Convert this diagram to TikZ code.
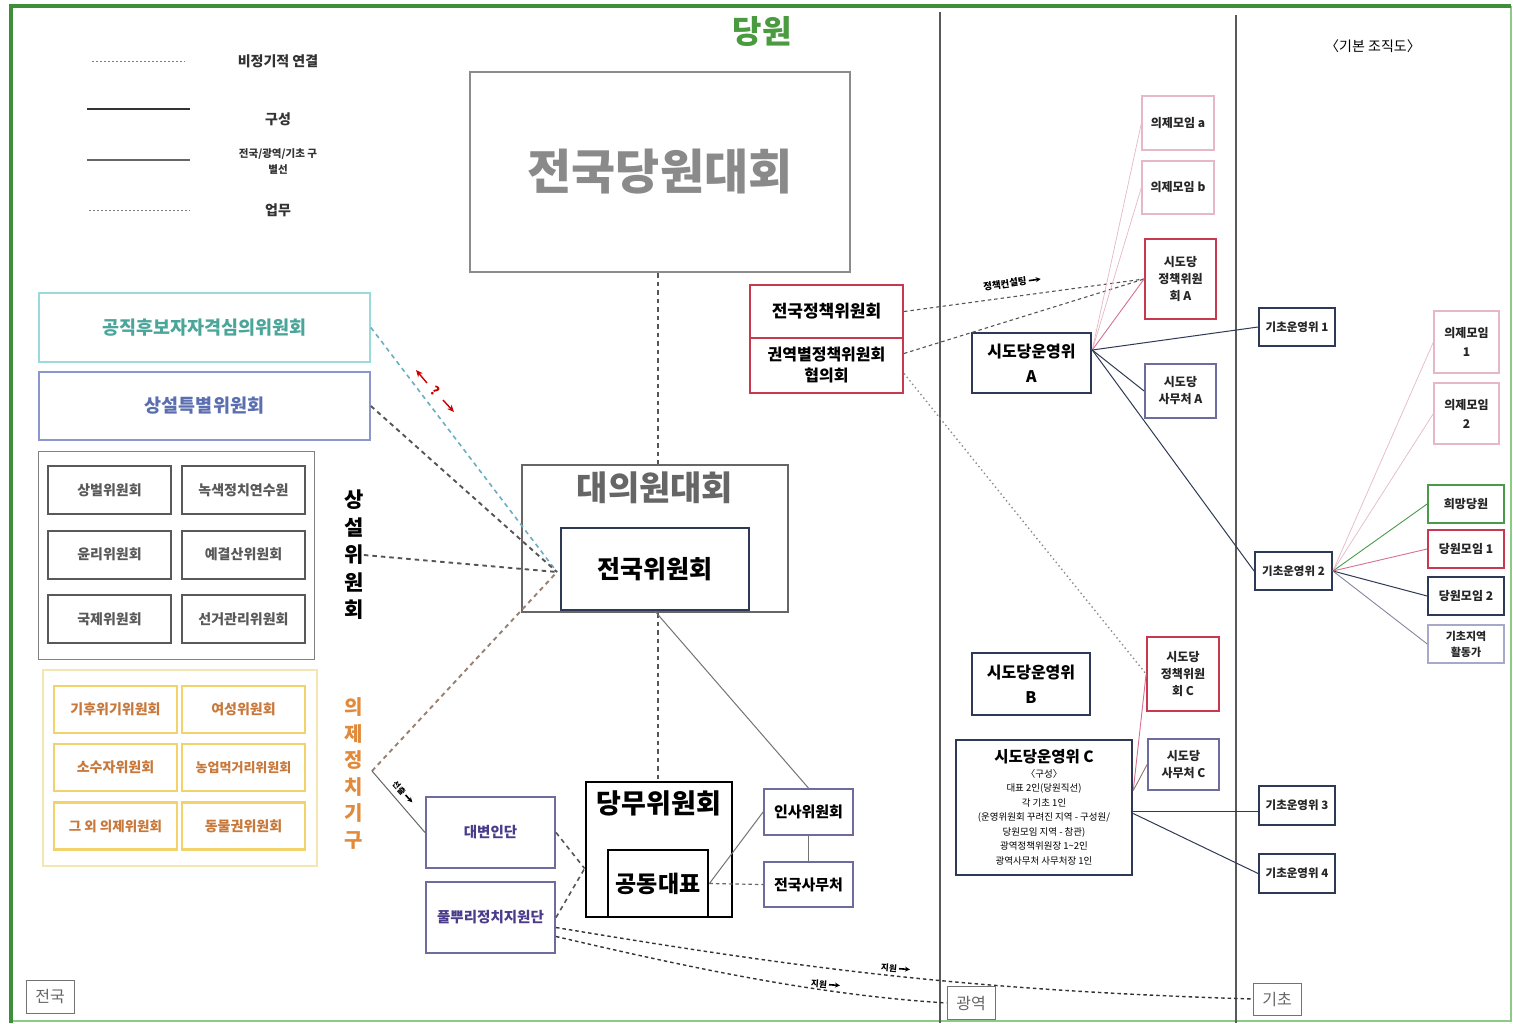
\documentclass[tikz,border=0pt]{standalone}
\usepackage{fontspec}
\setmainfont{Noto Sans CJK KR}
\usetikzlibrary{arrows.meta}
\definecolor{frameg}{HTML}{3F8F3A}
\definecolor{framel}{HTML}{8CCB84}
\definecolor{titleg}{HTML}{4A9A40}
\definecolor{gtxt}{HTML}{8A8A8A}
\definecolor{tealb}{HTML}{9ADADA}
\definecolor{tealt}{HTML}{4AA59A}
\definecolor{tealdash}{HTML}{6AAFC0}
\definecolor{blueb}{HTML}{8A96CC}
\definecolor{bluet}{HTML}{5B6FB0}
\definecolor{boxg}{HTML}{5E5E5E}
\definecolor{yelb}{HTML}{F2D36B}
\definecolor{yelo}{HTML}{F3E6B0}
\definecolor{orat}{HTML}{C8783A}
\definecolor{orav}{HTML}{E08A3A}
\definecolor{oradash}{HTML}{9A8070}
\definecolor{navy}{HTML}{2E3A55}
\definecolor{purb}{HTML}{6E6C9E}
\definecolor{purt}{HTML}{4A3C8A}
\definecolor{redb}{HTML}{C8384E}
\definecolor{pinkl}{HTML}{E6B8C6}
\definecolor{pinkm}{HTML}{D87090}
\definecolor{dgray}{HTML}{555555}
\definecolor{greenb}{HTML}{4A9A4A}
\definecolor{lpur}{HTML}{A8A8C8}
\newcommand\fsz[2]{\fontsize{#1}{#2}\selectfont}
\begin{document}
\begin{tikzpicture}[x=1pt,y=-1pt,
  bx/.style={draw, rectangle, inner sep=0pt, align=center},
  tx/.style={inner sep=0pt, align=center},
  sb/.style={bx, line width=1.8pt, font={\fsz{12}{17}\bfseries}, text=black!85},
  cdash/.style={line width=1.9pt, dash pattern=on 4.5pt off 4pt, draw=dgray},
  ldash/.style={line width=1.2pt, dash pattern=on 3.5pt off 3pt, draw=dgray},
  fdot/.style={line width=1.4pt, dash pattern=on 1.4pt off 3pt, draw=black!45},
  legdot/.style={line width=0.8pt, dash pattern=on 1.5pt off 2.5pt, draw=black!50},
  conn/.style={line width=1pt, draw=navy},
  pconn/.style={line width=0.7pt, draw=pinkl},
  divl/.style={line width=1.3pt, draw=black!65},
  tip/.style={-{Stealth[length=5pt,width=5pt]}, line width=1.6pt, black},
]
\useasboundingbox (0,0) rectangle (1513,1023);
\fill[white] (0,0) rectangle (1513,1023);
% frame
\draw[framel, line width=2pt] (11,1021) -- (1511,1021) -- (1511,6);
\draw[frameg, line width=3.5pt] (11,1023) -- (11,6) -- (1511,6);
% dividers
\coordinate (d1t) at (940,12); \coordinate (d1b) at (940,1023);
\coordinate (d2t) at (1236,15); \coordinate (d2b) at (1236,1023);
\draw[divl] (d1t) -- (d1b);
\draw[divl] (d2t) -- (d2b);
% legend
\coordinate (la1) at (92,61); \coordinate (la2) at (185,61);
\coordinate (lb1) at (87,109); \coordinate (lb2) at (190,109);
\coordinate (lc1) at (87,160); \coordinate (lc2) at (190,160);
\coordinate (ld1) at (89,210); \coordinate (ld2) at (190,210);
\draw[legdot] (la1) -- (la2);
\draw[line width=1.1pt, black!80] (lb1) -- (lb2);
\draw[line width=1.8pt, black!60] (lc1) -- (lc2);
\draw[legdot] (ld1) -- (ld2);
\node[tx, font={\fsz{14}{16}\bfseries}, text=black!80] (lat) at (278,61) {비정기적 연결};
\node[tx, font={\fsz{14}{16}\bfseries}, text=black!80] (lbt) at (278,119) {구성};
\node[tx, font={\fsz{10.5}{16}\bfseries}, text=black!80] (lct) at (278,162) {전국/광역/기초 구\\별선};
\node[tx, font={\fsz{14}{16}\bfseries}, text=black!80] (ldt) at (278,210) {업무};
% titles
\node[tx, font={\fsz{32}{36}\bfseries}, text=titleg] (title) at (762,32) {당원};
\node[tx, font={\fsz{14}{16}}] (basic) at (1373,46) {〈기본 조직도〉};
% central boxes
\coordinate (cx) at (658,0);
\node[bx, draw=black!45, line width=2pt, minimum width=380pt, minimum height=200pt, font={\fsz{48}{50}\bfseries}, text=gtxt] (nat) at (660,172) {전국당원대회};
\node[bx, draw=black!60, line width=2pt, minimum width=266pt, minimum height=147pt] (dae) at (655,538.5) {};
\node[tx, font={\fsz{34}{36}\bfseries}, text=black!60] (daet) at (655,488) {대의원대회};
\node[bx, draw=navy, line width=2.5pt, fill=white, minimum width=188pt, minimum height=82pt, font={\fsz{25}{28}\bfseries}] (jw) at (655,569) {전국위원회};
\node[bx, draw=black, line width=2.8pt, minimum width=146pt, minimum height=135pt] (dang) at (659,849.5) {};
\node[tx, font={\fsz{27}{30}\bfseries}] (dangt) at (659,803) {당무위원회};
\node[bx, draw=black, line width=2.8pt, minimum width=100pt, minimum height=67pt, font={\fsz{23}{26}\bfseries}] (gd) at (658,883.5) {공동대표};
\node[bx, draw=purb, line width=1.8pt, minimum width=89pt, minimum height=46pt, font={\fsz{15}{18}\bfseries}] (insa) at (808.5,812) {인사위원회};
\node[bx, draw=purb, line width=1.8pt, minimum width=89pt, minimum height=45pt, font={\fsz{15}{18}\bfseries}] (jsm) at (808.5,884.5) {전국사무처};
\node[bx, draw=purb, line width=2pt, minimum width=129pt, minimum height=71pt, font={\fsz{14.5}{18}\bfseries}, text=purt] (dbi) at (490.5,832.5) {대변인단};
\node[bx, draw=purb, line width=2pt, minimum width=129pt, minimum height=71pt, font={\fsz{14.5}{18}\bfseries}, text=purt] (pul) at (490.5,917.5) {풀뿌리정치지원단};
% left committees
\node[bx, draw=tealb, line width=1.8pt, minimum width=331pt, minimum height=69pt, font={\fsz{18.5}{22}\bfseries}, text=tealt] (gong) at (204.5,327.5) {공직후보자자격심의위원회};
\node[bx, draw=blueb, line width=1.8pt, minimum width=331pt, minimum height=68pt, font={\fsz{18.5}{22}\bfseries}, text=bluet] (sang) at (204.5,406) {상설특별위원회};
\node[bx, draw=black!50, line width=1pt, minimum width=276pt, minimum height=208pt] (sgrp) at (176,555) {};
\tikzset{gb/.style={bx, draw=black!65, line width=2pt, minimum width=123pt, minimum height=48pt, font={\fsz{14}{17}\bfseries}, text=black!65}}
\node[gb] (s1) at (109.5,490) {상벌위원회};
\node[gb] (s2) at (243.5,490) {녹색정치연수원};
\node[gb] (s3) at (109.5,554.5) {윤리위원회};
\node[gb] (s4) at (243.5,554.5) {예결산위원회};
\node[gb] (s5) at (109.5,619) {국제위원회};
\node[gb] (s6) at (243.5,619) {선거관리위원회};
\node[tx, font={\fsz{21}{27.5}\bfseries}] (sv) at (354,555) {상\\설\\위\\원\\회};
\node[bx, draw=yelo, line width=1.3pt, minimum width=274pt, minimum height=196pt] (ygrp) at (180,768) {};
\tikzset{yb/.style={bx, draw=yelb, line width=2.2pt, minimum width=123pt, minimum height=47pt, font={\fsz{14}{17}\bfseries}, text=orat}}
\node[yb] (y1) at (115.5,709.5) {기후위기위원회};
\node[yb] (y2) at (243.5,709.5) {여성위원회};
\node[yb] (y3) at (115.5,767.5) {소수자위원회};
\node[yb, font={\fsz{13}{16}\bfseries}] (y4) at (243.5,767.5) {농업먹거리위원회};
\node[yb, font={\fsz{13.5}{16}\bfseries}] (y5) at (115.5,826) {그 외 의제위원회};
\node[yb] (y6) at (243.5,826) {동물권위원회};
\node[tx, font={\fsz{20}{26.6}\bfseries}, text=orav] (yv) at (354,773.5) {의\\제\\정\\치\\기\\구};
% level labels
\node[bx, draw=black!55, line width=1pt, minimum width=48pt, minimum height=33pt, font={\fsz{16}{18}}, text=black!60] (lvn) at (50,996.5) {전국};
\node[bx, draw=black!55, line width=1pt, fill=white, minimum width=48pt, minimum height=33pt, font={\fsz{16}{18}}, text=black!60] (lvg) at (971,1003) {광역};
\node[bx, draw=black!55, line width=1pt, fill=white, minimum width=48pt, minimum height=32pt, font={\fsz{16}{18}}, text=black!60] (lvk) at (1277,999) {기초};
% policy committee
\node[bx, draw=redb, line width=2pt, minimum width=153pt, minimum height=53pt, font={\fsz{17}{20}\bfseries}] (jp1) at (826.5,311.5) {전국정책위원회};
\node[bx, draw=redb, line width=2pt, minimum width=153pt, minimum height=55pt, font={\fsz{16}{21}\bfseries}] (jp2) at (826.5,365.5) {권역별정책위원회\\협의회};
% regional
\node[bx, draw=navy, line width=2.5pt, minimum width=119pt, minimum height=60pt, font={\fsz{16}{25}\bfseries}] (A) at (1031.5,363) {시도당운영위\\A};
\node[bx, draw=navy, line width=2.5pt, minimum width=118pt, minimum height=62pt, font={\fsz{16}{25}\bfseries}] (B) at (1031,684) {시도당운영위\\B};
\node[bx, draw=navy, line width=2.5pt, minimum width=176pt, minimum height=135pt, font={\fsz{9.5}{14.5}}] (C) at (1044,807.5) {{\fsz{15.5}{18}\bfseries 시도당운영위 C}\\〈구성〉\\대표 2인(당원직선)\\각 기초 1인\\(운영위원회 꾸려진 지역 - 구성원/\\당원모임 지역 - 참관)\\광역정책위원장 1\textasciitilde 2인\\광역사무처 사무처장 1인};
\node[sb, draw=pinkl, line width=1.2pt] (ma) at (1178,123) [minimum width=72pt, minimum height=54pt] {의제모임 a};
\node[sb, draw=pinkl, line width=1.2pt] (mb) at (1178,187.5) [minimum width=72pt, minimum height=53pt] {의제모임 b};
\node[sb, draw=redb] (spA) at (1180.5,279) [minimum width=71pt, minimum height=80pt] {시도당\\정책위원\\회 A};
\node[sb, draw=purb] (saA) at (1180.5,391) [minimum width=71pt, minimum height=54pt] {시도당\\사무처 A};
\node[sb, draw=redb] (spC) at (1183,674) [minimum width=72pt, minimum height=74pt] {시도당\\정책위원\\회 C};
\node[sb, draw=purb] (saC) at (1183.5,764.5) [minimum width=71pt, minimum height=51pt] {시도당\\사무처 C};
% local
\node[sb, draw=navy, font={\fsz{11.5}{14}\bfseries}] (g1) at (1297,327) [minimum width=76pt, minimum height=38pt] {기초운영위 1};
\node[sb, draw=navy, font={\fsz{11.5}{14}\bfseries}] (g2) at (1293.5,571) [minimum width=77pt, minimum height=38pt] {기초운영위 2};
\node[sb, draw=navy, font={\fsz{11.5}{14}\bfseries}] (g3) at (1297,805.5) [minimum width=76pt, minimum height=39pt] {기초운영위 3};
\node[sb, draw=navy, font={\fsz{11.5}{14}\bfseries}] (g4) at (1297,873.5) [minimum width=76pt, minimum height=39pt] {기초운영위 4};
\node[sb, draw=pinkl, line width=1.2pt, font={\fsz{12}{19}\bfseries}] (m1) at (1466.5,342) [minimum width=65pt, minimum height=62pt] {의제모임\\1};
\node[sb, draw=pinkl, line width=1.2pt, font={\fsz{12}{19}\bfseries}] (m2) at (1466.5,413.5) [minimum width=65pt, minimum height=61pt] {의제모임\\2};
\node[sb, draw=greenb] (hm) at (1466,504) [minimum width=76pt, minimum height=38pt] {희망당원};
\node[sb, draw=redb] (dm1) at (1466,549) [minimum width=76pt, minimum height=38pt] {당원모임 1};
\node[sb, draw=navy] (dm2) at (1466,596) [minimum width=76pt, minimum height=38pt] {당원모임 2};
\node[sb, draw=lpur, line width=1.5pt, font={\fsz{11}{16}\bfseries}] (gj) at (1466,644) [minimum width=76pt, minimum height=38pt] {기초지역\\활동가};
% ---------- connectors ----------
\coordinate (P) at (557,572);
\draw[cdash] (cx |- nat.south) -- (cx |- dae.north);
\draw[cdash] (cx |- dae.south) -- (cx |- dang.north);
\draw[cdash, draw=tealdash, line width=1.6pt] (gong.east) -- (P);
\draw[cdash] (sang.east) -- (P);
\draw[cdash] (sv.east) -- (P);
\coordinate (sel) at (372,771);
\draw[cdash, draw=oradash] (sel) -- (P);
\draw[line width=1pt, black!60] (sel) -- (dbi.west);
\node[tx, rotate=-47, font={\fsz{8}{9}\bfseries}] (selt) at (399,788) {선출};
\draw[tip] ([shift={(-47:2pt)}]selt.east) -- ++(-47:10pt);
% red question arrows
\coordinate (qa1) at (427,383); \coordinate (qa2) at (416,370);
\coordinate (qb1) at (443,400); \coordinate (qb2) at (454,412);
\draw[red!80!black, line width=1.4pt, -{Stealth[length=7pt,width=6pt]}] (qa1) -- (qa2);
\draw[red!80!black, line width=1.4pt, -{Stealth[length=7pt,width=6pt]}] (qb1) -- (qb2);
\node[tx, rotate=-40, font={\fsz{13}{14}\bfseries}, text=red!80!black] (q) at (435,391) {?};
% center lower
\draw[line width=1pt, black!55] (jw.south) -- (insa.north);
\draw[line width=1pt, black!55] (gd.east) -- (insa.west);
\draw[ldash, black!60] (gd.east) -- (jsm.west);
\draw[line width=1pt, black!55] (insa.south) -- (jsm.north);
\draw[cdash, line width=1.6pt] (dbi.east) -- ([yshift=-19pt]dang.west);
\draw[cdash, line width=1.6pt] (pul.east) -- ([yshift=-19pt]dang.west);
\draw[ldash, line width=1.4pt, draw=black!80] ([yshift=-10pt]pul.east) .. controls (800,968) and (960,990) .. (lvk.west);
\draw[ldash, line width=1.4pt, draw=black!80] ([yshift=-19pt]pul.east) .. controls (700,970) and (820,995) .. (lvg.west);
\node[tx, rotate=-4, font={\fsz{8.5}{9}\bfseries}] (sw1) at (889,968) {지원};
\draw[tip] ([shift={(-4:2pt)}]sw1.east) -- ++(-4:11pt);
\node[tx, rotate=-4, font={\fsz{8.5}{9}\bfseries}] (sw2) at (819,984) {지원};
\draw[tip] ([shift={(-4:2pt)}]sw2.east) -- ++(-4:11pt);
% policy lines
\draw[ldash, line width=1.1pt] (jp1.east) -- (spA.west);
\draw[ldash, line width=1.1pt] ([yshift=12pt]jp2.east) -- (spA.west);
\node[tx, rotate=8, font={\fsz{9.5}{10}\bfseries}] (pc) at (1005,284) {정책컨설팅};
\draw[tip] ([shift={(8:2pt)}]pc.east) -- ++(8:12pt);
\draw[fdot] ([yshift=-8pt]jp2.east) -- (spC.west);
% A fan
\coordinate (Ao) at ([yshift=13pt]A.east);
\draw[pconn] (Ao) -- (ma.west);
\draw[pconn] (Ao) -- (mb.west);
\draw[line width=0.9pt, draw=pinkm] (Ao) -- (spA.west);
\draw[conn] (Ao) -- (g1.west);
\draw[conn] (Ao) -- (saA.west);
\draw[conn] (Ao) -- (g2.west);
% C fan
\coordinate (Co) at ([yshift=17pt]C.east);
\draw[line width=0.9pt, draw=pinkm] (Co) -- (spC.west);
\draw[line width=0.9pt, draw=purb!70!orange] (Co) -- (saC.west);
\draw[conn] ([yshift=-4pt]C.east) -- ([yshift=-6pt]g3.west);
\draw[conn] ([yshift=-6pt]C.east) -- (g4.west);
% g2 fan
\draw[pconn] (g2.east) -- (m1.west);
\draw[pconn] (g2.east) -- (m2.west);
\draw[line width=0.9pt, draw=greenb] (g2.east) -- (hm.west);
\draw[line width=0.9pt, draw=pinkm] (g2.east) -- (dm1.west);
\draw[conn] (g2.east) -- (dm2.west);
\draw[line width=0.9pt, draw=lpur!80!black] (g2.east) -- (gj.west);
\end{tikzpicture}
\end{document}
